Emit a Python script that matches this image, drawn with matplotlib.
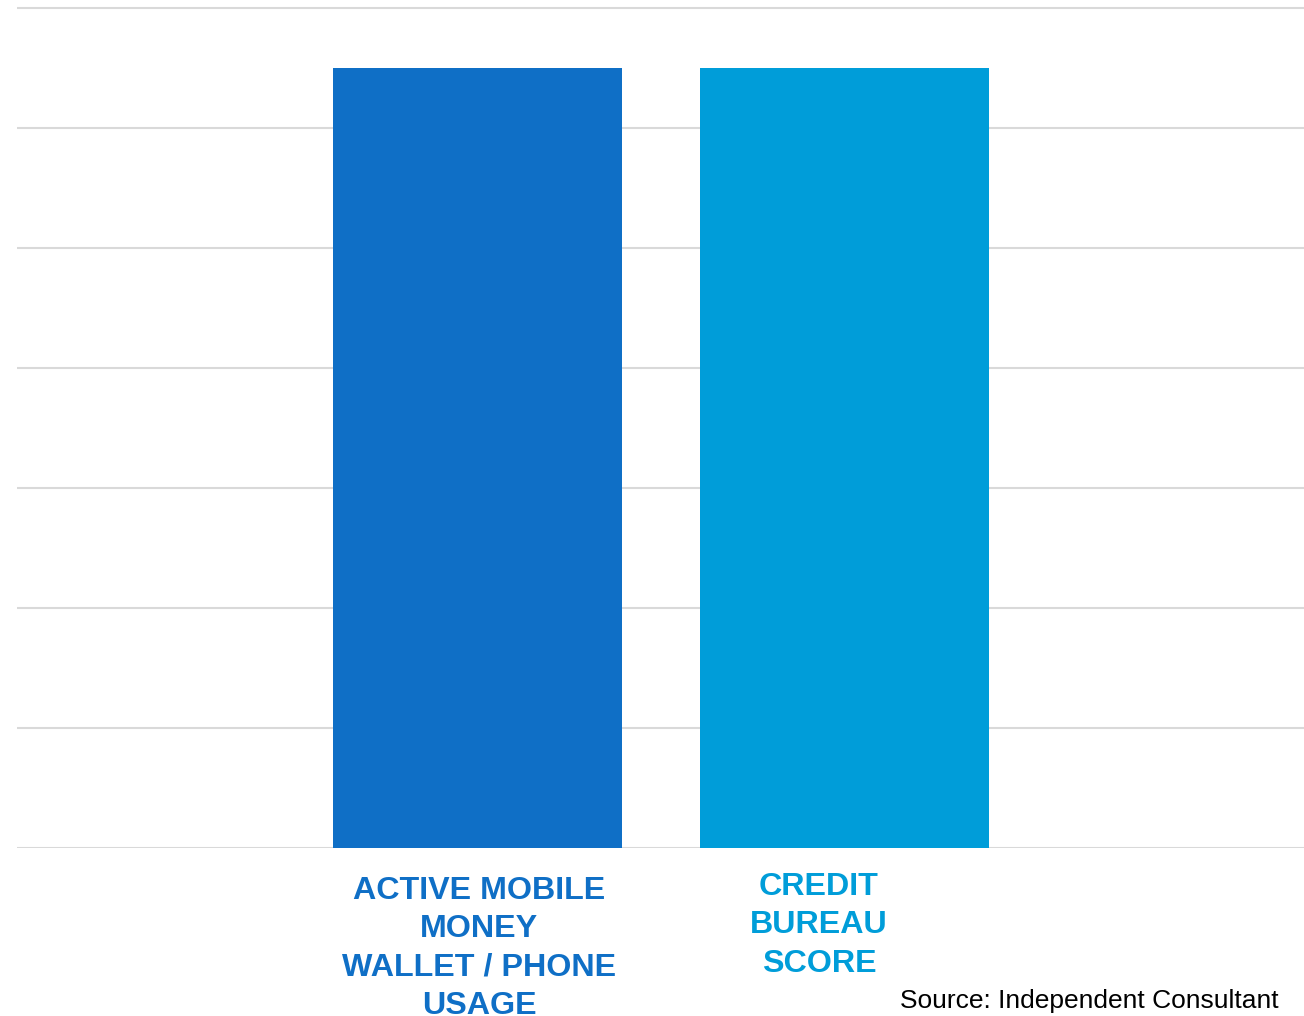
import matplotlib
matplotlib.use('Agg')
import matplotlib.pyplot as plt
import matplotlib.transforms as mtransforms

# data (no axis labels shown, grid of 0..7)
categories = ["ACTIVE MOBILE\nMONEY\nWALLET / PHONE\nUSAGE", "CREDIT\nBUREAU\nSCORE"]
values = [6.5, 6.5]
colors = ["#0F6FC6", "#009DD9"]
grid_ticks = [0, 1, 2, 3, 4, 5, 6, 7]

plt.rcParams['font.family'] = ['Liberation Sans', 'DejaVu Sans']

W, H = 1304, 1016
fig = plt.figure(figsize=(W / 100, H / 100), dpi=100)
base = 847.5
unit = (base - 8.5) / 7
top_val = 7.05
ax = fig.add_axes([17 / W, (H - base) / H, 1 - 17 / W, top_val * unit / H])

x = list(range(len(categories)))
ax.bar(x, values, width=0.7875, color=colors, zorder=2)
ax.set_xlim(-1.2548, 2.2520)
ax.set_ylim(0, top_val)
ax.set_yticks(grid_ticks)
ax.yaxis.grid(True, color="#D9D9D9", linewidth=1.5, zorder=0)
ax.set_axisbelow(True)
ax.tick_params(axis='y', left=False, labelleft=False)
ax.tick_params(axis='x', bottom=False, pad=17)
for s in ax.spines.values():
    s.set_visible(False)

ax.set_xticks(x)
ax.set_xticklabels(categories, fontsize=23.2, fontweight='bold', linespacing=1.36)
shifts = [(1.5, 0), (-25.5, 4)]
for lbl, c, (dx, dy) in zip(ax.get_xticklabels(), colors, shifts):
    lbl.set_color(c)
    lbl.set_transform(lbl.get_transform() +
                      mtransforms.ScaledTranslation(dx / 100, dy / 100, fig.dpi_scale_trans))

fig.text(1279 / W, (H - 1008) / H, "Source: Independent Consultant",
         ha='right', va='baseline', fontsize=19, color='black')

fig.savefig("out.png", dpi=100)
